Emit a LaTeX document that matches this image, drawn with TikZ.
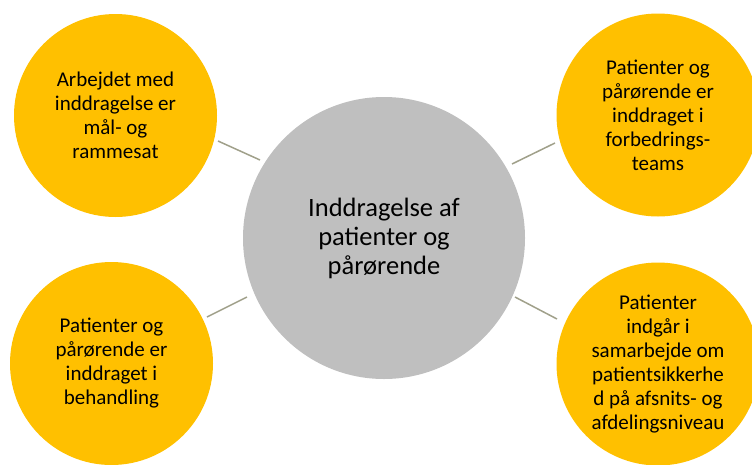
\documentclass[tikz,border=0pt]{standalone}
\usepackage{fontspec}
\setmainfont{Carlito}
\definecolor{ylw}{RGB}{255,192,0}
\definecolor{gry}{RGB}{191,191,191}
\definecolor{lnc}{RGB}{160,160,138}
\begin{document}
\begin{tikzpicture}[x=1pt,y=-1pt,
  outer/.style={circle,fill=ylw,draw=none,minimum size=203pt,inner sep=0pt,align=center,
    font=\fontsize{21}{24}\selectfont,text=black},
  hub/.style={circle,fill=gry,draw=none,minimum size=282pt,inner sep=0pt,align=center,
    font=\fontsize{26.5}{29}\selectfont,text=black},
  link/.style={draw=lnc,line width=1.5pt}]
\useasboundingbox (0,0) rectangle (752,464);
\node[hub] (c) at (384,238) {Inddragelse af\\patienter og\\pårørende};
\node[outer] (tl) at (115.5,115.5) {Arbejdet med\\inddragelse er\\mål- og\\rammesat};
\node[outer] (tr) at (658,115) {Patienter og\\pårørende er\\inddraget i\\forbedrings-\\teams};
\node[outer] (bl) at (111.5,363.5) {Patienter og\\pårørende er\\inddraget i\\behandling};
\node[outer] (br) at (658,364) {Patienter\\indgår i\\samarbejde om\\patientsikkerhe\\d på afsnits- og\\afdelingsniveau};
\coordinate (tla) at (218,141);
\coordinate (tlb) at (260,160);
\coordinate (tra) at (512,164);
\coordinate (trb) at (555,143);
\coordinate (bla) at (207,317);
\coordinate (blb) at (247,297);
\coordinate (bra) at (515,297);
\coordinate (brb) at (557,319);
\draw[link] (tla) -- (tlb);
\draw[link] (tra) -- (trb);
\draw[link] (bla) -- (blb);
\draw[link] (bra) -- (brb);
\end{tikzpicture}
\end{document}
